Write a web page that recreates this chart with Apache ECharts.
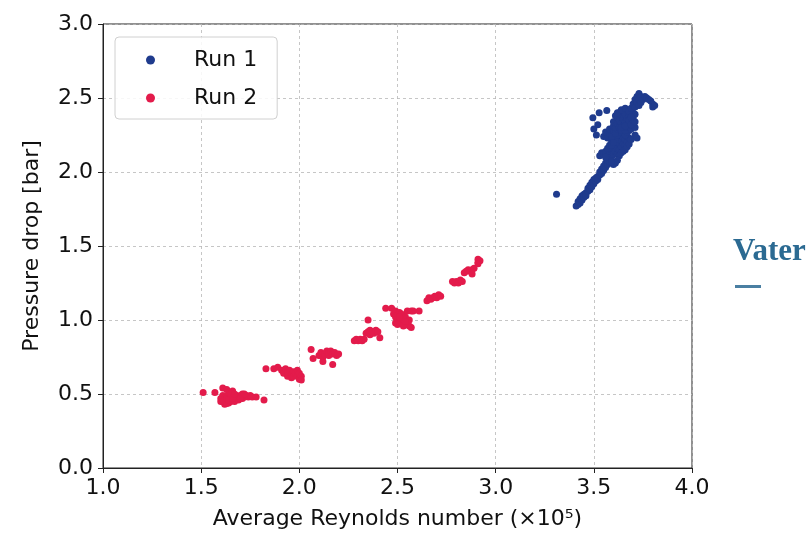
<!DOCTYPE html>
<html><head><meta charset="utf-8">
<script src="https://cdn.jsdelivr.net/npm/echarts@6/dist/echarts.min.js"></script>
<style>html,body{margin:0;padding:0;background:#fff}#c{width:810px;height:535px}</style>
</head><body><div id="c"></div>
<script>
var xTicks = ['1.0','1.5','2.0','2.5','3.0','3.5','4.0'];
var yTicks = ['0.0','0.5','1.0','1.5','2.0','2.5','3.0'];
var seriesNames = ['Run 1','Run 2'];
var run1 = [
[3.31,1.85],
[3.41,1.77],[3.42,1.78],[3.42,1.80],[3.43,1.79],[3.43,1.82],[3.44,1.81],[3.44,1.84],[3.45,1.83],[3.45,1.85],[3.46,1.86],[3.46,1.84],[3.47,1.87],[3.47,1.89],[3.48,1.88],[3.48,1.91],[3.49,1.90],[3.49,1.93],[3.50,1.92],[3.50,1.95],[3.51,1.94],[3.51,1.96],[3.52,1.97],[3.52,1.95],[3.53,1.98],[3.53,2.00],[3.54,1.99],[3.54,2.02],[3.55,2.01],[3.55,2.04],[3.56,2.03],[3.56,2.06],[3.57,2.05],[3.57,2.08],[3.58,2.07],[3.58,2.10],
[3.53,2.11],[3.54,2.13],[3.55,2.12],[3.56,2.14],[3.57,2.11],[3.58,2.13],[3.59,2.10],[3.59,2.15],[3.60,2.12],[3.60,2.17],[3.61,2.14],[3.61,2.19],[3.62,2.12],[3.62,2.16],[3.62,2.21],[3.63,2.15],[3.63,2.19],[3.63,2.23],[3.64,2.17],[3.64,2.21],[3.64,2.25],[3.65,2.19],[3.65,2.23],[3.66,2.18],[3.66,2.22],[3.67,2.20],[3.67,2.24],[3.68,2.23],
[3.59,2.20],[3.60,2.22],[3.61,2.22],[3.62,2.25],[3.63,2.27],[3.65,2.27],[3.66,2.25],[3.67,2.27],[3.68,2.28],[3.65,2.14],[3.66,2.15],[3.67,2.17],[3.68,2.19],[3.69,2.22],[3.64,2.13],[3.63,2.11],[3.62,2.08],[3.61,2.06],[3.60,2.05],[3.59,2.07],[3.57,2.16],[3.56,2.10],[3.58,2.18],[3.59,2.18],[3.60,2.20],
[3.55,2.24],[3.56,2.27],[3.57,2.23],[3.58,2.26],[3.58,2.29],[3.59,2.24],[3.60,2.28],[3.60,2.31],[3.61,2.26],[3.62,2.29],[3.61,2.30],
[3.60,2.34],[3.61,2.38],[3.62,2.33],[3.62,2.37],[3.63,2.30],[3.63,2.35],[3.63,2.40],[3.64,2.28],[3.64,2.33],[3.64,2.38],[3.65,2.31],[3.65,2.36],[3.65,2.41],[3.66,2.28],[3.66,2.34],[3.66,2.39],[3.67,2.30],[3.67,2.36],[3.67,2.42],[3.68,2.33],[3.68,2.38],[3.69,2.29],[3.69,2.35],[3.69,2.40],[3.70,2.32],[3.70,2.37],[3.71,2.25],[3.71,2.30],[3.72,2.23],
[3.64,2.30],[3.66,2.31],[3.68,2.35],[3.69,2.32],[3.70,2.35],[3.70,2.40],[3.71,2.39],[3.71,2.34],[3.62,2.40],[3.64,2.42],[3.66,2.43],[3.68,2.41],[3.69,2.37],
[3.69,2.43],[3.70,2.46],[3.71,2.44],[3.71,2.49],[3.72,2.47],[3.72,2.51],[3.73,2.45],[3.73,2.49],[3.73,2.53],[3.74,2.47],[3.74,2.51],[3.75,2.49],[3.76,2.51],[3.77,2.50],[3.78,2.49],[3.79,2.48],[3.80,2.46],[3.80,2.44],[3.81,2.45],
[3.495,2.366],[3.527,2.40],[3.566,2.415],[3.52,2.32],[3.50,2.29],[3.513,2.25]
];
var run2 = [
[1.51,0.51],[1.57,0.51],[1.61,0.54],[1.63,0.53],[1.66,0.52],[1.60,0.47],[1.61,0.45],[1.61,0.49],[1.62,0.44],[1.62,0.47],[1.63,0.45],[1.63,0.49],[1.64,0.44],[1.64,0.47],[1.65,0.45],[1.65,0.48],[1.66,0.46],[1.66,0.49],[1.67,0.45],[1.67,0.48],[1.68,0.47],[1.68,0.49],[1.69,0.46],[1.69,0.48],[1.70,0.49],[1.71,0.47],[1.71,0.50],[1.72,0.48],[1.73,0.49],[1.74,0.48],[1.75,0.49],[1.76,0.48],[1.78,0.48],[1.82,0.46],[1.62,0.43],[1.63,0.435],
[1.63,0.47],[1.64,0.46],[1.65,0.50],[1.66,0.47],[1.67,0.50],[1.70,0.47],[1.72,0.50],[1.60,0.45],
[1.83,0.67],[1.87,0.67],[1.89,0.68],[1.91,0.66],[1.92,0.64],[1.93,0.67],[1.94,0.62],[1.94,0.65],[1.95,0.66],[1.96,0.63],[1.96,0.61],[1.97,0.65],[1.97,0.62],[1.98,0.64],[1.99,0.66],[1.99,0.62],[2.00,0.64],[2.00,0.60],[2.01,0.62],[2.01,0.595],
[2.06,0.80],[2.07,0.74],[2.10,0.76],[2.11,0.78],[2.12,0.75],[2.12,0.72],[2.13,0.77],[2.14,0.79],[2.15,0.76],[2.15,0.78],[2.16,0.79],[2.17,0.77],[2.17,0.70],[2.18,0.78],[2.19,0.76],[2.20,0.77],
[2.28,0.86],[2.29,0.87],[2.30,0.86],[2.31,0.87],[2.32,0.86],[2.33,0.87],[2.35,1.00],[2.34,0.91],[2.35,0.92],[2.36,0.90],[2.36,0.93],[2.37,0.92],[2.38,0.91],[2.39,0.93],[2.40,0.92],[2.41,0.88],
[2.44,1.08],[2.47,1.08],[2.48,1.04],[2.49,1.02],[2.49,1.06],[2.50,1.00],[2.50,1.03],[2.51,0.99],[2.51,1.05],[2.52,1.01],[2.52,0.98],[2.53,1.03],[2.53,1.00],[2.54,0.97],[2.54,1.02],[2.55,1.06],[2.55,0.99],[2.56,0.96],[2.56,1.00],[2.57,1.06],[2.58,1.06],[2.61,1.06],[2.57,0.95],
[2.49,0.98],[2.50,0.97],[2.52,1.04],[2.53,0.96],[2.51,1.02],[2.54,0.99],
[2.65,1.13],[2.66,1.15],[2.67,1.14],[2.68,1.15],[2.69,1.16],[2.70,1.15],[2.71,1.17],[2.72,1.16],
[2.78,1.26],[2.79,1.25],[2.80,1.26],[2.81,1.25],[2.82,1.27],[2.83,1.26],
[2.84,1.32],[2.85,1.33],[2.86,1.34],[2.87,1.33],[2.88,1.34],[2.89,1.35],[2.88,1.31],
[2.91,1.39],[2.91,1.41],[2.92,1.40],[2.91,1.38]
];
var xName = 'Average Reynolds number (×10⁵)';
var yName = 'Pressure drop [bar]';
var colors = ['#1f3b8d','#e31b4b'];

var font = 'DejaVu Sans';
var chart = echarts.init(document.getElementById('c'), null, {renderer:'canvas'});
chart.setOption({
  animation:false,
  backgroundColor:'#fff',
  grid:{left:103,right:118,top:24,bottom:67,show:true,borderColor:'#222',borderWidth:1,backgroundColor:'transparent'},
  legend:{
    orient:'vertical', left:115, top:37,
    padding:[12,20,10,31], itemGap:16,
    backgroundColor:'rgba(255,255,255,0.85)',
    borderColor:'#d0d0d0', borderWidth:1, borderRadius:4,
    itemWidth:9, itemHeight:9, icon:'circle',
    textStyle:{fontFamily:font,fontSize:22,color:'#111',padding:[0,0,0,34]},
    data:seriesNames
  },
  xAxis:{
    type:'value', min:1, max:4, interval:0.5,
    name:xName, nameLocation:'middle', nameGap:40,
    nameTextStyle:{fontFamily:font,fontSize:22,color:'#111'},
    axisLine:{show:true,onZero:false,lineStyle:{color:'#222',width:1}},
    axisTick:{show:true,inside:false,length:5,lineStyle:{color:'#222'}},
    axisLabel:{fontFamily:font,fontSize:22,color:'#111',margin:9,
      formatter:function(v){ return xTicks[Math.round((v-1)/0.5)]; }},
    splitLine:{show:true,lineStyle:{color:'#b8b8b8',type:[3,3],width:0.8}}
  },
  yAxis:{
    type:'value', min:0, max:3, interval:0.5,
    name:yName, nameLocation:'middle', nameGap:60,
    nameTextStyle:{fontFamily:font,fontSize:22,color:'#111'},
    axisLine:{show:true,onZero:false,lineStyle:{color:'#222',width:1}},
    axisTick:{show:true,inside:false,length:5,lineStyle:{color:'#222'}},
    axisLabel:{fontFamily:font,fontSize:22,color:'#111',margin:10,
      formatter:function(v){ return yTicks[Math.round(v/0.5)]; }},
    splitLine:{show:true,lineStyle:{color:'#b8b8b8',type:[3,3],width:0.8}}
  },
  series:[
    {name:seriesNames[0],type:'scatter',data:run1,symbolSize:7,itemStyle:{color:colors[0],opacity:1}},
    {name:seriesNames[1],type:'scatter',data:run2,symbolSize:7,itemStyle:{color:colors[1],opacity:1}}
  ],
  graphic:[
    {type:'text',left:733,top:236,style:{text:'Vater',fontFamily:'Liberation Serif',fontWeight:'bold',fontSize:31,fill:'#2b6a92'}},
    {type:'rect',shape:{x:735,y:285,width:26,height:3},style:{fill:'#4a7fa2'}}
  ]
});
</script></body></html>
